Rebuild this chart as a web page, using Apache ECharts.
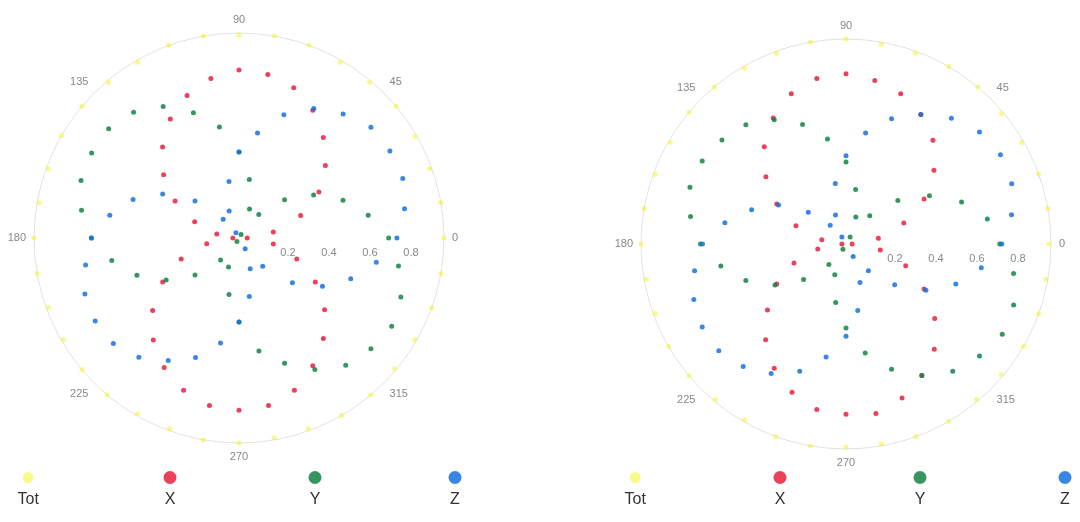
<!DOCTYPE html>
<html>
<head>
<meta charset="utf-8">
<title>Polar patterns</title>
<script src="https://cdn.jsdelivr.net/npm/echarts@6.0.0/dist/echarts.min.js"></script>
<style>
  html, body { margin: 0; background: #fff; }
  #main { width: 1080px; height: 522px; }
</style>
</head>
<body>
<div id="main"></div>
<script>
// sample angles (deg), shared by every series
var angles = [0, 10, 20, 30, 40, 50, 60, 70, 80, 90, 100, 110, 120, 130, 140, 150, 160, 170,
              180, 190, 200, 210, 220, 230, 240, 250, 260, 270, 280, 290, 300, 310, 320, 330, 340, 350];
var angleTicks = [0, 45, 90, 135, 180, 225, 270, 315];
var radiusTicks = [0.2, 0.4, 0.6, 0.8];
var seriesNames = ['Tot', 'X', 'Y', 'Z'];

// left pattern
var leftTot = [1.0, 1.0, 0.99, 0.99, 1.0, 0.99, 0.99, 1.0, 1.0, 0.99, 1.0, 1.0, 0.99, 0.99, 1.0, 1.0, 0.99, 0.99,
               1.0, 1.0, 0.99, 0.99, 1.0, 1.0, 0.99, 0.99, 1.0, 1.0, 0.99, 0.99, 1.0, 1.0, 0.99, 0.99, 1.0, 1.0];
var leftX = [0.04, 0.17, 0.32, 0.45, 0.55, 0.64, 0.72, 0.78, 0.81, 0.82, 0.79, 0.74, 0.67, 0.58, 0.48, 0.36, 0.23, 0.11,
             0.03, 0.16, 0.30, 0.43, 0.55, 0.65, 0.73, 0.79, 0.83, 0.84, 0.83, 0.79, 0.72, 0.64, 0.545, 0.43, 0.30, 0.17];
var leftY = [0.73, 0.64, 0.54, 0.42, 0.29, 0.15, 0.02, 0.15, 0.29, 0.42, 0.55, 0.65, 0.74, 0.80, 0.83, 0.83, 0.82, 0.78,
             0.72, 0.63, 0.53, 0.41, 0.28, 0.14, 0.02, 0.15, 0.28, 0.41, 0.56, 0.65, 0.74, 0.81, 0.84, 0.86, 0.84, 0.79];
var leftZ = [0.77, 0.82, 0.85, 0.85, 0.84, 0.79, 0.73, 0.64, 0.52, 0.42, 0.28, 0.14, 0.03, 0.12, 0.28, 0.43, 0.55, 0.64,
             0.72, 0.76, 0.80, 0.81, 0.80, 0.76, 0.69, 0.62, 0.52, 0.41, 0.29, 0.16, 0.06, 0.18, 0.34, 0.47, 0.58, 0.68];

// right pattern
var rightTot = [0.99, 1.0, 1.0, 0.99, 0.99, 1.0, 1.0, 0.99, 0.99, 1.0, 1.0, 0.99, 0.99, 1.0, 1.0, 0.99, 0.99, 1.0,
                1.0, 0.99, 0.99, 1.0, 1.0, 0.99, 0.99, 1.0, 1.0, 0.99, 0.99, 1.0, 1.0, 0.99, 0.99, 1.0, 1.0, 0.99];
var rightX = [0.03, 0.16, 0.30, 0.44, 0.56, 0.66, 0.73, 0.78, 0.81, 0.83, 0.82, 0.78, 0.71, 0.62, 0.51, 0.39, 0.26, 0.12,
              0.02, 0.14, 0.27, 0.39, 0.50, 0.61, 0.70, 0.77, 0.82, 0.83, 0.84, 0.80, 0.74, 0.67, 0.565, 0.44, 0.31, 0.17];
var rightY = [0.75, 0.70, 0.60, 0.47, 0.33, 0.18, 0.04, 0.14, 0.27, 0.40, 0.52, 0.62, 0.70, 0.76, 0.79, 0.81, 0.81, 0.77,
              0.71, 0.62, 0.52, 0.40, 0.27, 0.13, 0.03, 0.16, 0.29, 0.41, 0.54, 0.65, 0.74, 0.81, 0.85, 0.88, 0.87, 0.83];
var rightZ = [0.76, 0.82, 0.86, 0.87, 0.85, 0.80, 0.73, 0.65, 0.55, 0.43, 0.30, 0.15, 0.04, 0.12, 0.24, 0.38, 0.49, 0.60,
              0.70, 0.75, 0.79, 0.81, 0.81, 0.78, 0.73, 0.66, 0.56, 0.45, 0.33, 0.20, 0.07, 0.17, 0.31, 0.45, 0.57, 0.67];

var colors = { Tot: '#f2f200', X: '#e8203c', Y: '#148444', Z: '#1672e0' };

var chart = echarts.init(document.getElementById('main'));

function pts(vals) {
    return vals.map(function (v, i) { return [v, angles[i]]; });
}

function makeAngleAxis(idx) {
    return {
        polarIndex: idx,
        type: 'value', min: 0, max: 360, interval: 45,
        startAngle: 0, clockwise: false,
        axisLine: { lineStyle: { color: '#e2e2dc', width: 1 } },
        axisTick: { show: false },
        splitLine: { show: false },
        axisLabel: {
            color: '#888', fontSize: 11, margin: 8,
            formatter: function (v) { return angleTicks.indexOf(v) >= 0 ? String(v) : ''; }
        }
    };
}

function makeRadiusAxis(idx) {
    return {
        polarIndex: idx,
        type: 'value', min: 0, max: 1, interval: 0.2,
        axisLine: { show: false },
        axisTick: { show: false },
        splitLine: { show: false },
        axisLabel: {
            color: '#888', fontSize: 11,
            verticalAlign: 'top', align: 'center',
            padding: [17, 0, 0, 16],
            formatter: function (v) {
                var r = Math.round(v * 10) / 10;
                return radiusTicks.indexOf(r) >= 0 ? r.toFixed(1) : '';
            }
        }
    };
}

function makeSeries(idx, data) {
    return seriesNames.map(function (name, k) {
        return {
            name: name,
            type: 'scatter',
            coordinateSystem: 'polar',
            polarIndex: idx,
            symbolSize: 5,
            itemStyle: { color: colors[name], opacity: name === 'Tot' ? 0.45 : 0.85 },
            data: pts(data[k])
        };
    });
}

// one small legend per item, label under the icon
var legendCentersLeft = [23, 170, 315, 455];
var legendCentersRight = [630, 780, 920, 1065];
function makeLegends(centers) {
    return seriesNames.map(function (name, k) {
        var size = name === 'Tot' ? 11 : 13;
        return {
            data: [{ name: name, icon: 'circle' }],
            left: centers[k] - size / 2,
            top: 471 + (13 - size) / 2,
            itemWidth: size, itemHeight: size,
            padding: 0,
            formatter: function (n) { return '{c|' + n + '}'; },
            textStyle: {
                padding: [44, 0, 0, -(size + 5) + size / 2 - 20],
                rich: { c: { width: 40, align: 'center', fontSize: 16, color: '#333', fontFamily: 'Liberation Sans' } }
            }
        };
    });
}

var option = {
    animation: false,
    polar: [
        { center: [239, 238], radius: 205 },
        { center: [846, 244], radius: 205 }
    ],
    angleAxis: [makeAngleAxis(0), makeAngleAxis(1)],
    radiusAxis: [makeRadiusAxis(0), makeRadiusAxis(1)],
    legend: makeLegends(legendCentersLeft).concat(makeLegends(legendCentersRight)),
    series: makeSeries(0, [leftTot, leftX, leftY, leftZ])
        .concat(makeSeries(1, [rightTot, rightX, rightY, rightZ]))
};

chart.setOption(option);
</script>
</body>
</html>
